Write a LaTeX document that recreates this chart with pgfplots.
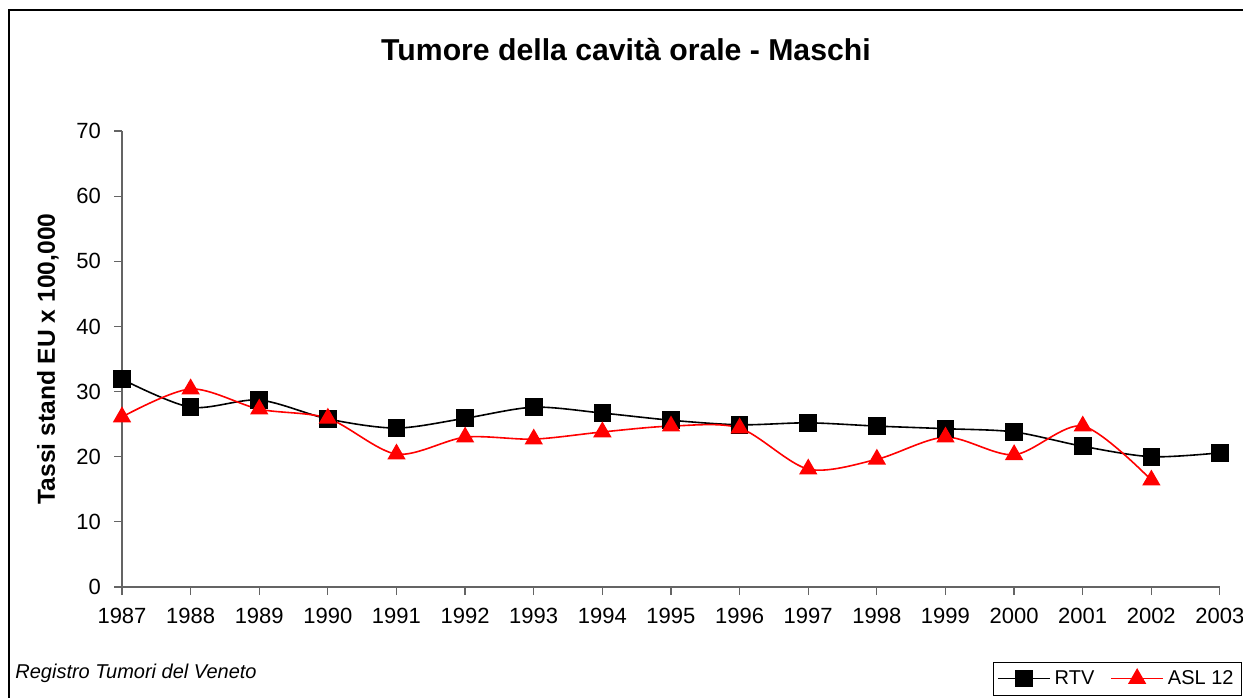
\documentclass[border=0pt]{standalone}
\usepackage{fontspec}
\setmainfont{Liberation Sans}
\usepackage{pgfplots}
\pgfplotsset{compat=1.18}
\definecolor{axgray}{RGB}{100,100,100}

\begin{document}
\begin{tikzpicture}
\clip (-61pt,-55pt) rectangle (560.5pt,293.5pt);
\draw[line width=0.8pt] (-56.5pt,-80pt) -- (-56.5pt,288.5pt) -- (600pt,288.5pt);
\begin{axis}[
  scale only axis, width=549pt, height=228pt,
  xmin=1987, xmax=2003, ymin=0, ymax=70,
  clip=false,
  axis x line=bottom, axis y line=left,
  axis line style={axgray,-,line width=0.6pt},
  xtick={1987,...,2003}, ytick={0,10,...,70},
  x tick label style={/pgf/number format/1000 sep={}, yshift=-3pt},
  y tick label style={xshift=-3pt},
  tick align=outside, major tick length=4pt,
  tick style={axgray,line width=0.6pt},
  ticklabel style={font=\fontsize{11}{13}\selectfont},
  /pgf/number format/assume math mode=true,
  ylabel={Tassi stand EU x 100,000},
  ylabel style={font=\bfseries\fontsize{12.3}{14}\selectfont},
  ylabel shift=2pt,
  legend columns=2,
  legend style={at={(0.793,-0.164)}, anchor=north west, draw=black,
    font=\fontsize{10}{12}\selectfont, inner sep=2pt,
    /tikz/every even column/.append style={column sep=6pt}},
  legend image code/.code={%
    \draw[mark repeat=2,mark phase=2,#1] plot coordinates {(0pt,0pt) (13pt,0pt) (26pt,0pt)};},
]
\addplot[black, line width=0.8pt, smooth, mark=square*, mark size=4pt,
  mark options={solid}] coordinates {
  (1987,31.9) (1988,27.6) (1989,28.7) (1990,25.8) (1991,24.4) (1992,25.9)
  (1993,27.6) (1994,26.7) (1995,25.6) (1996,24.9) (1997,25.2) (1998,24.7)
  (1999,24.3) (2000,23.8) (2001,21.6) (2002,20.0) (2003,20.6)};
\addlegendentry{RTV}
\addplot[red, line width=0.8pt, smooth, mark=triangle*, mark size=4.5pt,
  mark options={solid}] coordinates {
  (1987,26.1) (1988,30.4) (1989,27.3) (1990,25.9) (1991,20.4) (1992,23.0)
  (1993,22.7) (1994,23.8) (1995,24.7) (1996,24.4) (1997,18.1) (1998,19.6)
  (1999,23.0) (2000,20.3) (2001,24.7) (2002,16.4)};
\addlegendentry{ASL 12}
\end{axis}
\node[font=\bfseries\fontsize{15.1}{18}\selectfont] at (252pt,268.5pt)
  {Tumore della cavità orale - Maschi};
\node[anchor=west, font=\itshape\fontsize{10}{12}\selectfont, inner sep=0pt]
  at (-53.5pt,-43pt) {Registro Tumori del Veneto};
\end{tikzpicture}
\end{document}
